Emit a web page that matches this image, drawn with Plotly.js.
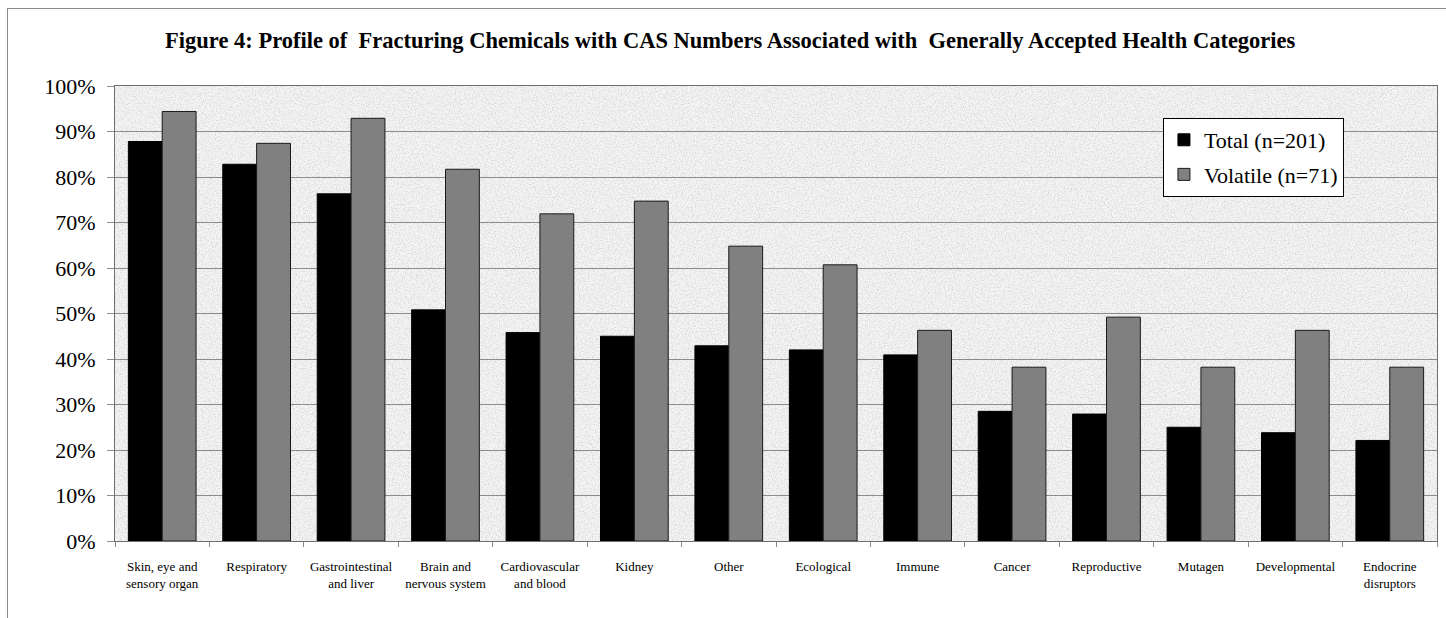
<!DOCTYPE html>
<html>
<head>
<meta charset="utf-8">
<script src="https://cdn.plot.ly/plotly-3.0.1.min.js"></script>
<style>
  html, body { margin: 0; padding: 0; background: #ffffff; overflow: hidden; }
  #frame { position: absolute; left: 7px; top: 8px; width: 1500px; height: 700px;
           border-left: 1px solid #8c8c8c; border-top: 1px solid #8c8c8c; pointer-events: none; }
  #chart { position: absolute; left: 0; top: 0; width: 1446px; height: 618px; }
</style>
</head>
<body>
<div id="chart"></div>
<div id="frame"></div>
<script>
const categories = [
  "Skin, eye and<br>sensory organ", "Respiratory", "Gastrointestinal<br>and liver",
  "Brain and<br>nervous system", "Cardiovascular<br>and blood", "Kidney", "Other",
  "Ecological", "Immune", "Cancer", "Reproductive", "Mutagen", "Developmental",
  "Endocrine<br>disruptors"
];
const totalValues    = [87.8, 82.8, 76.3, 50.8, 45.8, 45.0, 42.9, 42.0, 40.9, 28.5, 27.9, 25.0, 23.8, 22.1];
const volatileValues = [94.4, 87.4, 92.9, 81.7, 71.9, 74.7, 64.8, 60.7, 46.3, 38.2, 49.2, 38.2, 46.3, 38.2];
const seriesNames = ["Total (n=201)", "Volatile (n=71)"];
const yTicks = [0, 10, 20, 30, 40, 50, 60, 70, 80, 90, 100];
const titleText = "Figure 4: Profile of  Fracturing Chemicals with CAS Numbers Associated with  Generally Accepted Health Categories";

const serif = "Liberation Serif, Times New Roman, serif";

const texture = "<svg xmlns='http://www.w3.org/2000/svg' width='1322' height='455'>" +
  "<filter id='n' x='0' y='0' width='100%' height='100%'>" +
  "<feTurbulence type='fractalNoise' baseFrequency='0.7' numOctaves='3' stitchTiles='stitch'/>" +
  "<feColorMatrix type='matrix' values='0 0 0 0 0.55  0 0 0 0 0.55  0 0 0 0 0.55  3.2 0 0 0 -1.4'/>" +
  "</filter>" +
  "<rect width='100%' height='100%' fill='#f4f4f4'/>" +
  "<rect width='100%' height='100%' filter='url(#n)' opacity='0.5'/>" +
  "</svg>";
const textureURI = "data:image/svg+xml;charset=utf-8," + encodeURIComponent(texture);

const traces = [
  {
    type: "bar", name: seriesNames[0], x: categories, y: totalValues,
    marker: { color: "#000000", line: { color: "#000000", width: 1 } },
    legendgroup: "a", hoverinfo: "x+y"
  },
  {
    type: "bar", name: seriesNames[1], x: categories, y: volatileValues,
    marker: { color: "#808080", line: { color: "#1a1a1a", width: 1 } },
    legendgroup: "b", hoverinfo: "x+y"
  }
];

const layout = {
  width: 1446, height: 618,
  margin: { l: 115, r: 9, t: 86, b: 77, pad: 0 },
  paper_bgcolor: "rgba(0,0,0,0)",
  plot_bgcolor: "#efefef",
  font: { family: serif, color: "#000000" },
  title: {
    text: "<b>" + titleText + "</b>",
    font: { family: serif, size: 22.5, color: "#000000" },
    xref: "container", yref: "container",
    x: 0.505, xanchor: "center", y: 0.935, yanchor: "middle"
  },
  barmode: "group",
  bargap: 0.283,
  bargroupgap: 0,
  showlegend: true,
  legend: {
    x: 0.7927, xanchor: "left", y: 0.9297, yanchor: "top",
    bgcolor: "#ffffff", bordercolor: "#000000", borderwidth: 1,
    font: { family: serif, size: 22, color: "#000000" },
    traceorder: "grouped", tracegroupgap: 3,
    itemwidth: 30
  },
  xaxis: {
    type: "category",
    tickson: "boundaries",
    ticks: "outside", ticklen: 5, tickcolor: "#8c8c8c", tickwidth: 1,
    showline: true, linecolor: "#6e6e6e", linewidth: 1, mirror: true,
    showgrid: false,
    tickfont: { family: serif, size: 13, color: "#000000" },
    ticklabelstandoff: 13,
    tickangle: 0,
    automargin: false
  },
  yaxis: {
    range: [0, 100],
    tickvals: yTicks,
    ticktext: yTicks.map(v => v + "%"),
    ticks: "outside", ticklen: 7, tickcolor: "#8c8c8c", tickwidth: 1,
    showline: true, linecolor: "#6e6e6e", linewidth: 1, mirror: true,
    showgrid: true, gridcolor: "#8c8c8c", gridwidth: 1,
    zeroline: false,
    tickfont: { family: serif, size: 22, color: "#000000" },
    ticklabelstandoff: 7,
    automargin: false
  },
  images: [{
    source: textureURI, xref: "paper", yref: "paper",
    x: 0, y: 1, sizex: 1, sizey: 1, xanchor: "left", yanchor: "top",
    sizing: "stretch", layer: "below", opacity: 1
  }]
};

Plotly.newPlot("chart", traces, layout, { displayModeBar: false, responsive: false });
</script>
</body>
</html>
